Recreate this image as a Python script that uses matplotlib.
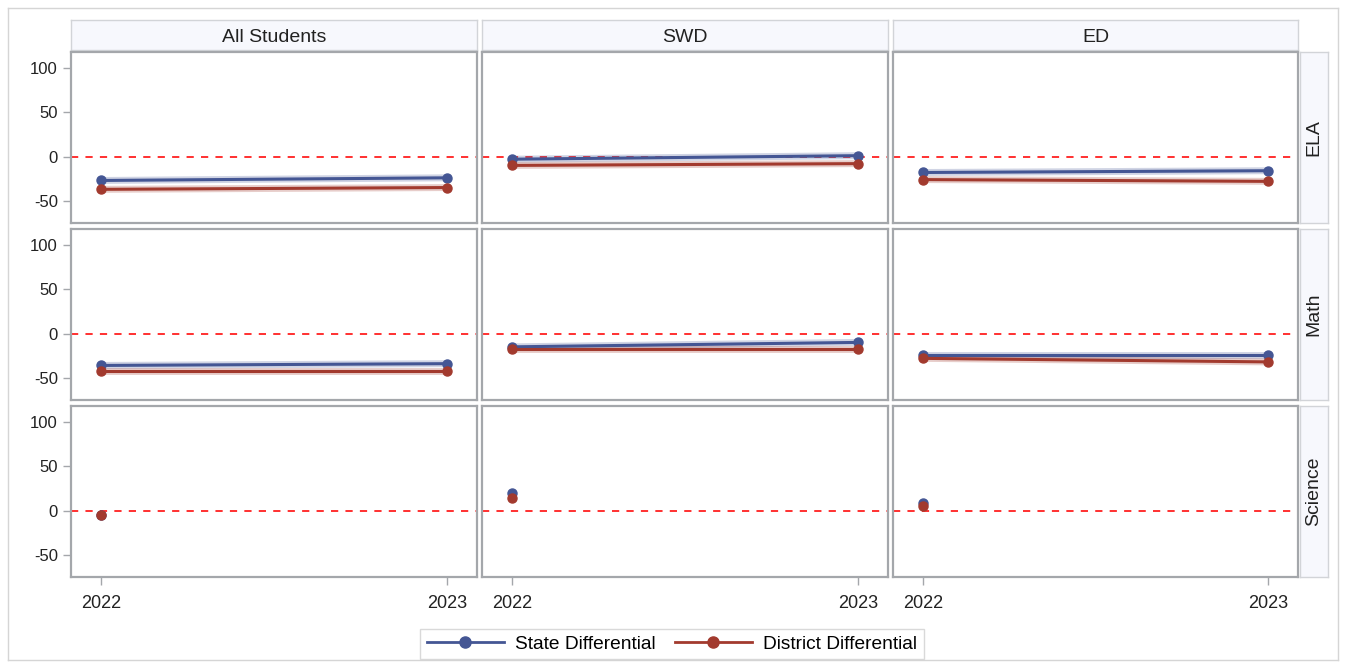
import numpy as np
import matplotlib
matplotlib.use("Agg")
import matplotlib.pyplot as plt
from matplotlib.lines import Line2D

years = ["2022", "2023"]
groups = ["All Students", "SWD", "ED"]
subjects = ["ELA", "Math", "Science"]

# rows = subjects, values per group: [2022, 2023]
state_ela = [[-27, -24], [-3, 1], [-18, -16]]
district_ela = [[-37, -35], [-10, -8], [-26, -28]]
state_math = [[-36, -34], [-15, -10], [-24, -24]]
district_math = [[-42, -42], [-18, -18], [-28, -32]]
state_sci = [[-5, np.nan], [20, np.nan], [8, np.nan]]
district_sci = [[-5, np.nan], [14, np.nan], [5, np.nan]]

state = [state_ela, state_math, state_sci]
district = [district_ela, district_math, district_sci]

STATE_C = "#445694"
DIST_C = "#A23A2E"
EDGE = "#A4A7AB"
STRIP_BG = "#F7F8FD"

W, H = 1346, 668
plt.rcParams["font.family"] = "Liberation Sans"
plt.rcParams["axes.unicode_minus"] = False
fig = plt.figure(figsize=(W / 100, H / 100), dpi=100)


def fax(x0, y0, x1, y1):
    return fig.add_axes([x0 / W, 1 - y1 / H, (x1 - x0) / W, (y1 - y0) / H])


# outer frame
frame = fax(8, 8, 1338, 660)
frame.set_xticks([]); frame.set_yticks([])
frame.patch.set_alpha(0)
for s in frame.spines.values():
    s.set_color("#D5D5D5"); s.set_linewidth(1)

col_x = [(71, 477), (482, 888), (893, 1298)]
row_y = [(52, 223), (229, 400), (406, 577)]

for c, (x0, x1) in enumerate(col_x):
    st = fax(x0, 20, x1, 50)
    st.set_facecolor(STRIP_BG)
    st.set_xticks([]); st.set_yticks([])
    for s in st.spines.values():
        s.set_color("#D2D4D8"); s.set_linewidth(1)
    st.text(0.5, 0.42, groups[c], ha="center", va="center", fontsize=14, color="#222222")

for r, (y0, y1) in enumerate(row_y):
    st = fax(1300, y0, 1328, y1)
    st.set_facecolor(STRIP_BG)
    st.set_xticks([]); st.set_yticks([])
    for s in st.spines.values():
        s.set_color("#D2D4D8"); s.set_linewidth(1)
    st.text(0.5, 0.5, subjects[r], ha="center", va="center", rotation=90, fontsize=14, color="#222222")

x = np.arange(len(years))
for r, (y0, y1) in enumerate(row_y):
    for c, (x0, x1) in enumerate(col_x):
        ax = fax(x0, y0, x1, y1)
        ax.axhline(0, color="#FF2020", lw=1.3, ls=(0, (4, 4)), zorder=1)
        for vals, col in ((state[r][c], STATE_C), (district[r][c], DIST_C)):
            ax.plot(x, vals, color=col, lw=5, alpha=0.25, solid_capstyle="round", zorder=2)
            ax.plot(x, vals, color=col, lw=2.2, marker="o", ms=6.5, zorder=3)
        ax.set_xlim(-0.086, 1.086)
        ax.set_ylim(-75, 118)
        ax.set_yticks([-50, 0, 50, 100])
        ax.set_xticks(x)
        ax.set_xticklabels(years)
        for s in ax.spines.values():
            s.set_color(EDGE); s.set_linewidth(1.6)
        ax.tick_params(colors=EDGE, labelcolor="#222222", length=6, width=1)
        ax.tick_params(axis="y", labelsize=12)
        ax.tick_params(axis="x", labelsize=13)
        if c != 0:
            ax.tick_params(axis="y", left=False, labelleft=False)
        if r != 2:
            ax.tick_params(axis="x", bottom=False, labelbottom=False)
        else:
            ax.tick_params(axis="x", pad=7)

handles = [
    Line2D([], [], color=STATE_C, lw=2, marker="o", ms=8),
    Line2D([], [], color=DIST_C, lw=2, marker="o", ms=8),
]
leg = fig.legend(handles, ["State Differential", "District Differential"], loc="center",
                 bbox_to_anchor=(672 / W, 1 - 644 / H), ncol=2, frameon=True, fancybox=False,
                 fontsize=13.8, handlelength=4.0, columnspacing=1.0, borderpad=0.35,
                 handletextpad=0.6, borderaxespad=0)
leg.get_frame().set_edgecolor("#D0D0D0")
leg.get_frame().set_linewidth(1)

fig.savefig("out.png", dpi=100)
